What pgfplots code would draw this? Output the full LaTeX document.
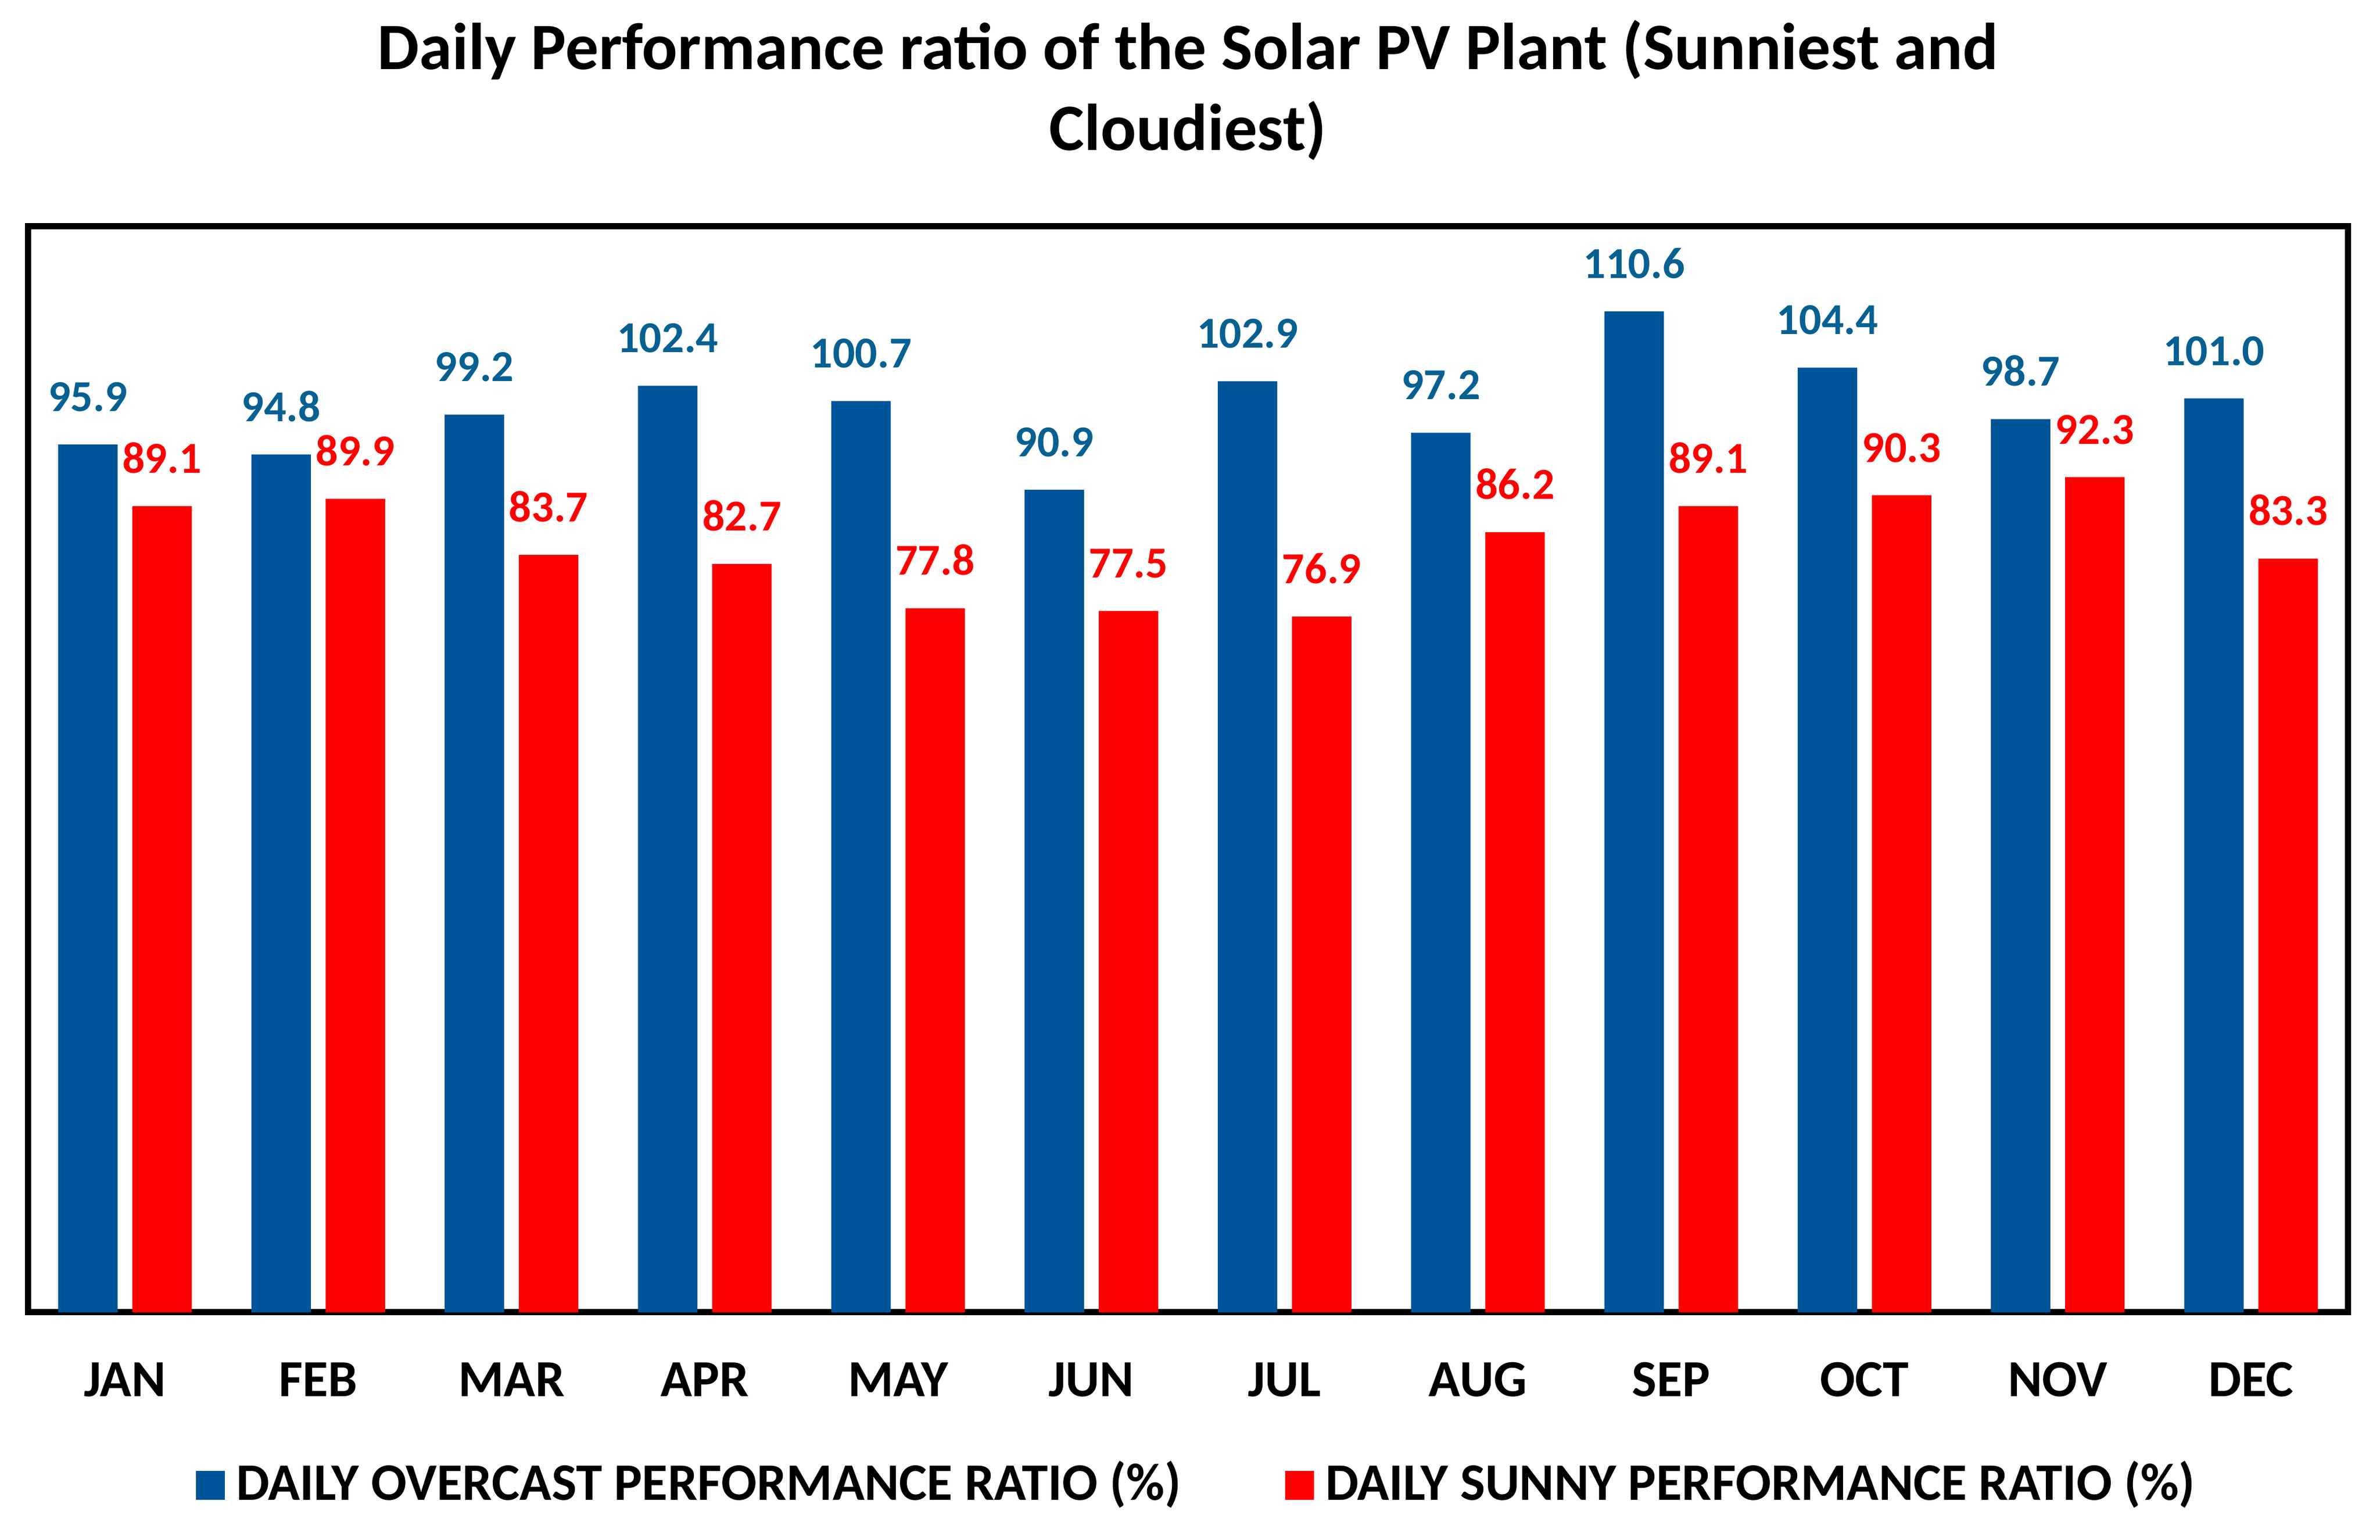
\documentclass[border=0pt]{standalone}
\usepackage{fontspec}
\setmainfont{Carlito}
\usepackage{pgfplots}
\pgfplotsset{compat=1.18}

\definecolor{barblue}{RGB}{0,84,153}
\definecolor{lblblue}{RGB}{6,96,146}
\definecolor{barred}{RGB}{255,0,0}

\begin{document}
\begin{tikzpicture}
\useasboundingbox (-5pt,-40.2pt) rectangle (415.2pt,231.8pt);
\begin{axis}[
    scale only axis,
    width=409.5pt, height=191.8pt,
    ybar=2.6pt, bar width=10.5pt,
    xmin=-0.5, xmax=11.5,
    ymin=0, ymax=120,
    xtick=data,
    xticklabels={JAN,FEB,MAR,APR,MAY,JUN,JUL,AUG,SEP,OCT,NOV,DEC},
    xticklabel style={font=\fontsize{9.2}{11}\selectfont\bfseries, anchor=base, yshift=-14.9pt},
    major tick length=0pt,
    ytick=\empty,
    axis line style={line width=1.1pt},
    clip=false,
    nodes near coords={\pgfmathprintnumber[fixed,fixed zerofill,precision=1,assume math mode=true]{\pgfplotspointmeta}},
    every node near coord/.append style={font=\fontsize{7.8}{9}\selectfont\bfseries, anchor=south, inner sep=0pt, yshift=5.6pt},
    legend columns=2,
    legend style={draw=none, at={(0.5057,-0.159)}, anchor=center,
        font=\fontsize{9.3}{11}\selectfont\bfseries,
        /tikz/every even column/.append style={column sep=16.4pt},
        /tikz/every odd column/.append style={column sep=0pt}},
    legend image code/.code={\fill[#1] (0pt,-2.6pt) rectangle (5.1pt,2.5pt);},
]
\addplot[fill=barblue, draw=none, every node near coord/.append style={text=lblblue}]
    coordinates {(0,95.9) (1,94.8) (2,99.2) (3,102.4) (4,100.7) (5,90.9) (6,102.9) (7,97.2) (8,110.6) (9,104.4) (10,98.7) (11,101.0)};
\addplot[fill=barred, draw=none, every node near coord/.append style={text=barred}]
    coordinates {(0,89.1) (1,89.9) (2,83.7) (3,82.7) (4,77.8) (5,77.5) (6,76.9) (7,86.2) (8,89.1) (9,90.3) (10,92.3) (11,83.3)};
\legend{DAILY OVERCAST PERFORMANCE RATIO (\%), DAILY SUNNY PERFORMANCE RATIO (\%)}
\node[font=\fontsize{11.7}{14}\selectfont\bfseries, anchor=base] at (rel axis cs:0.5,1) [yshift=27.7pt] {Daily Performance ratio of the Solar PV Plant (Sunniest and};
\node[font=\fontsize{11.7}{14}\selectfont\bfseries, anchor=base] at (rel axis cs:0.5,1) [yshift=13.4pt] {Cloudiest)};
\end{axis}
\end{tikzpicture}
\end{document}
